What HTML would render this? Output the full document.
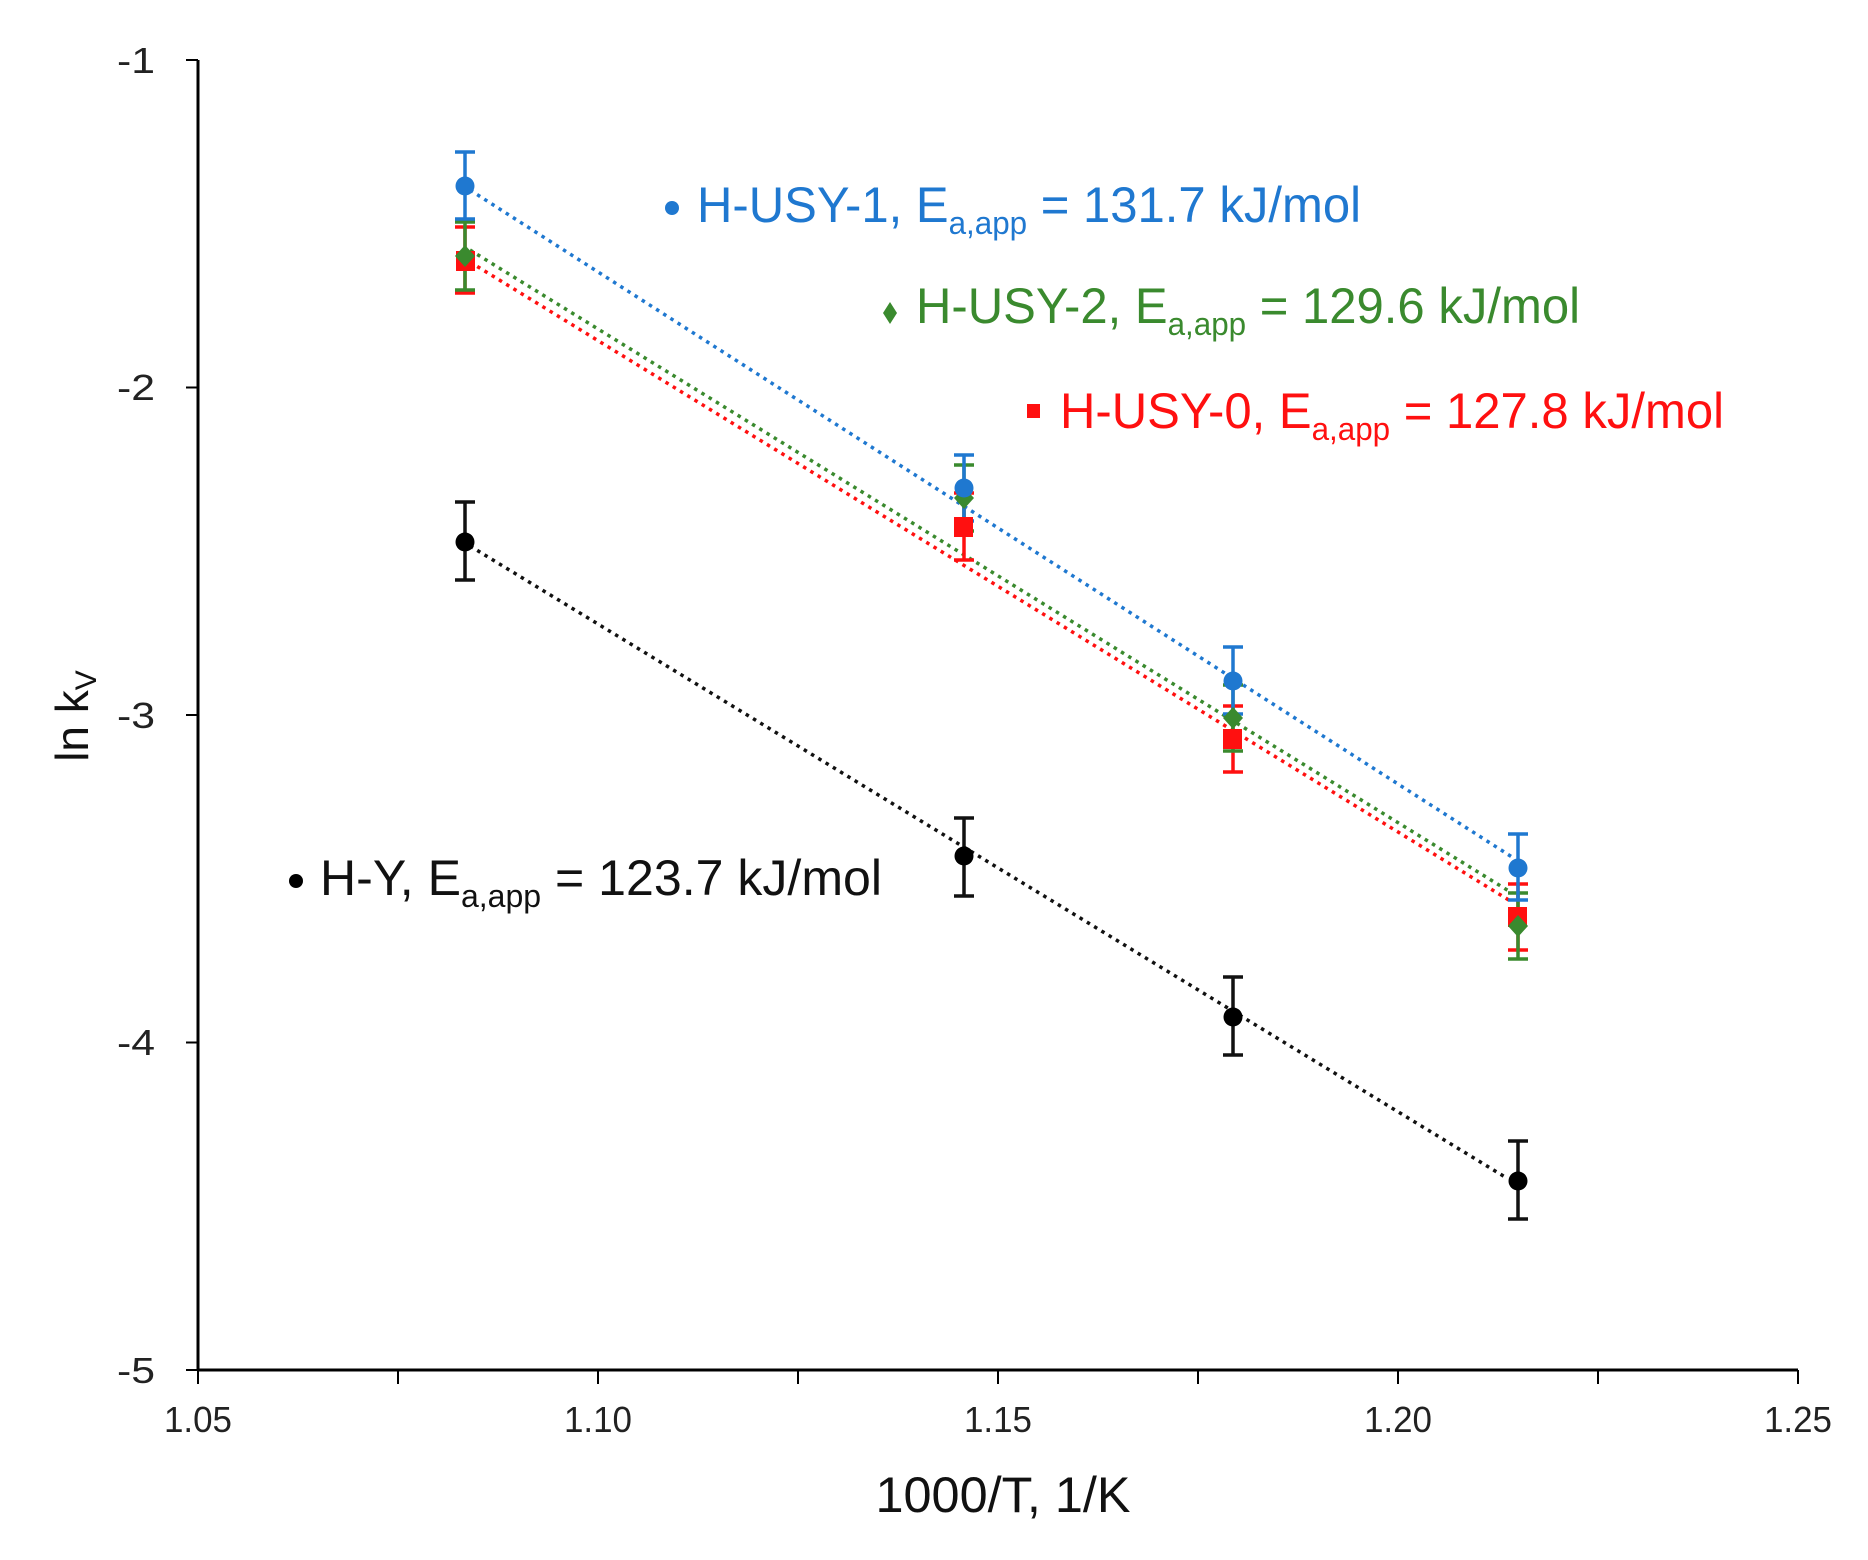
<!DOCTYPE html>
<html><head><meta charset="utf-8"><style>
html,body{margin:0;padding:0;background:#fff;}
svg{display:block;}
text{font-family:"Liberation Sans",sans-serif;}
</style></head><body>
<svg width="1868" height="1560" viewBox="0 0 1868 1560" xmlns="http://www.w3.org/2000/svg">
<!-- axes -->
<line x1="198" y1="60" x2="198" y2="1370" stroke="#000" stroke-width="3"/>
<line x1="198" y1="1370" x2="1798" y2="1370" stroke="#000" stroke-width="3"/>
<g stroke="#000" stroke-width="2">
<line x1="186" y1="60" x2="198" y2="60"/><line x1="186" y1="387.5" x2="198" y2="387.5"/>
<line x1="186" y1="715" x2="198" y2="715"/><line x1="186" y1="1042.5" x2="198" y2="1042.5"/>
<line x1="186" y1="1370" x2="198" y2="1370"/>
<line x1="198" y1="1370" x2="198" y2="1384"/><line x1="398" y1="1370" x2="398" y2="1384"/>
<line x1="598" y1="1370" x2="598" y2="1384"/><line x1="798" y1="1370" x2="798" y2="1384"/>
<line x1="998" y1="1370" x2="998" y2="1384"/><line x1="1198" y1="1370" x2="1198" y2="1384"/>
<line x1="1398" y1="1370" x2="1398" y2="1384"/><line x1="1598" y1="1370" x2="1598" y2="1384"/>
<line x1="1798" y1="1370" x2="1798" y2="1384"/>
</g>
<g font-size="36" fill="#222" text-anchor="end">
<text x="155" y="73" textLength="38" lengthAdjust="spacingAndGlyphs">-1</text>
<text x="155" y="400" textLength="38" lengthAdjust="spacingAndGlyphs">-2</text>
<text x="155" y="728" textLength="38" lengthAdjust="spacingAndGlyphs">-3</text>
<text x="155" y="1055" textLength="38" lengthAdjust="spacingAndGlyphs">-4</text>
<text x="155" y="1383" textLength="38" lengthAdjust="spacingAndGlyphs">-5</text>
</g>
<g font-size="36" fill="#222" text-anchor="middle">
<text x="198" y="1432" textLength="68" lengthAdjust="spacingAndGlyphs">1.05</text>
<text x="598" y="1432" textLength="68" lengthAdjust="spacingAndGlyphs">1.10</text>
<text x="998" y="1432" textLength="68" lengthAdjust="spacingAndGlyphs">1.15</text>
<text x="1398" y="1432" textLength="68" lengthAdjust="spacingAndGlyphs">1.20</text>
<text x="1798" y="1432" textLength="68" lengthAdjust="spacingAndGlyphs">1.25</text>
</g>
<text x="1003" y="1512" font-size="50" text-anchor="middle" fill="#111" textLength="255" lengthAdjust="spacingAndGlyphs">1000/T, 1/K</text>
<text transform="translate(88,716) rotate(-90)" font-size="46" text-anchor="middle" fill="#111">ln k<tspan font-size="30" dy="8">V</tspan></text>

<!-- trendlines -->
<g stroke-width="3.5" stroke-dasharray="3.5 5" fill="none">
<line x1="470" y1="190" x2="1512" y2="857" stroke="#1f78d0"/>
<line x1="470" y1="250" x2="1512" y2="893" stroke="#3a8a2e"/>
<line x1="470" y1="262" x2="1512" y2="902" stroke="#ff1010"/>
<line x1="470" y1="546" x2="1505" y2="1177" stroke="#111"/>
</g>

<!-- error bars -->
<g stroke-width="3.5">
<g stroke="#ff1010">
<path d="M465 227V293M455 227H475M455 293H475"/>
<path d="M964 493V560M954 493H974M954 560H974"/>
<path d="M1233 706V772M1223 706H1243M1223 772H1243"/>
<path d="M1518 884V950M1508 884H1528M1508 950H1528"/>
</g>
<g stroke="#3a8a2e">
<path d="M465 222V290M455 222H475M455 290H475"/>
<path d="M964 465V531M954 465H974M954 531H974"/>
<path d="M1233 685V751M1223 685H1243M1223 751H1243"/>
<path d="M1518 893V959M1508 893H1528M1508 959H1528"/>
</g>
<g stroke="#1f78d0">
<path d="M465 152V219M455 152H475M455 219H475"/>
<path d="M964 455V521M954 455H974M954 521H974"/>
<path d="M1233 647V714M1223 647H1243M1223 714H1243"/>
<path d="M1518 834V900M1508 834H1528M1508 900H1528"/>
</g>
<g stroke="#111">
<path d="M465 502V580M455 502H475M455 580H475"/>
<path d="M964 818V896M954 818H974M954 896H974"/>
<path d="M1233 977V1055M1223 977H1243M1223 1055H1243"/>
<path d="M1518 1141V1219M1508 1141H1528M1508 1219H1528"/>
</g>
</g>

<!-- markers -->
<g fill="#ff1010">
<rect x="456" y="251" width="19" height="20"/><rect x="954" y="517" width="19" height="20"/>
<rect x="1223" y="729" width="19" height="20"/><rect x="1508" y="907" width="19" height="20"/>
</g>
<g fill="#3a8a2e">
<path d="M465 245L475 256L465 267L455 256Z"/><path d="M964 487L974 498L964 509L954 498Z"/>
<path d="M1233 707L1243 718L1233 729L1223 718Z"/><path d="M1518 915L1528 926L1518 937L1508 926Z"/>
</g>
<g fill="#1f78d0">
<circle cx="465" cy="186" r="9.5"/><circle cx="964" cy="488" r="9.5"/>
<circle cx="1233" cy="681" r="9.5"/><circle cx="1518" cy="868" r="9.5"/>
</g>
<g fill="#000">
<circle cx="465" cy="542" r="9.5"/><circle cx="964" cy="856" r="9.5"/>
<circle cx="1233" cy="1017" r="9.5"/><circle cx="1518" cy="1181" r="9.5"/>
</g>

<!-- legend labels -->
<circle cx="672" cy="208" r="7" fill="#1f78d0"/>
<text x="697" y="222" font-size="50" fill="#1f78d0" textLength="664" lengthAdjust="spacingAndGlyphs">H-USY-1,  E<tspan font-size="32" dy="12">a,app</tspan><tspan dy="-12"> = 131.7 kJ/mol</tspan></text>
<path d="M890 302L897 313L890 324L883 313Z" fill="#3a8a2e"/>
<text x="916" y="323" font-size="50" fill="#3a8a2e" textLength="664" lengthAdjust="spacingAndGlyphs">H-USY-2,  E<tspan font-size="32" dy="12">a,app</tspan><tspan dy="-12"> = 129.6 kJ/mol</tspan></text>
<rect x="1027" y="404" width="13" height="14" fill="#ff1010"/>
<text x="1060" y="428" font-size="50" fill="#ff1010" textLength="664" lengthAdjust="spacingAndGlyphs">H-USY-0,  E<tspan font-size="32" dy="12">a,app</tspan><tspan dy="-12"> = 127.8 kJ/mol</tspan></text>
<circle cx="296" cy="881" r="7" fill="#000"/>
<text x="320" y="895" font-size="50" fill="#111" textLength="562" lengthAdjust="spacingAndGlyphs">H-Y,  E<tspan font-size="32" dy="12">a,app</tspan><tspan dy="-12"> = 123.7 kJ/mol</tspan></text>
</svg>
</body></html>
